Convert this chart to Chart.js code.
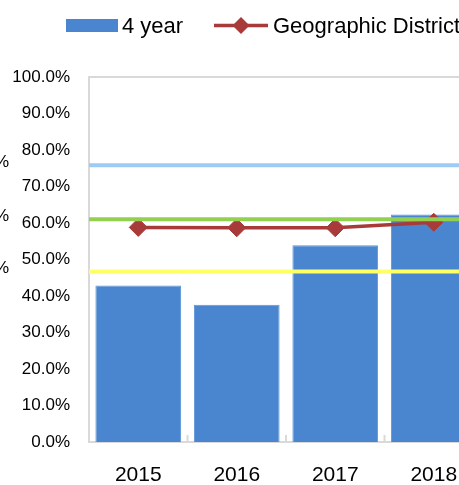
<!DOCTYPE html>
<html>
<head>
<meta charset="utf-8">
<title>4 year vs Geographic District</title>
<script src="https://cdn.jsdelivr.net/npm/chart.js@4/dist/chart.umd.min.js"></script>
<style>
  html, body { margin: 0; padding: 0; background: #fff; overflow: hidden; }
  #wrap { width: 459px; height: 485px; overflow: hidden; }
  canvas { display: block; }
</style>
</head>
<body>
<div id="wrap"><canvas id="rateChart" width="493" height="485"></canvas></div>
<script>
// ---- Data ----
const years        = ['2015', '2016', '2017', '2018'];
const fourYear     = [42.9, 37.6, 53.9, 62.3];
const geoDistrict  = [58.8, 58.7, 58.7, 60.2];
const yTicks       = [0, 10, 20, 30, 40, 50, 60, 70, 80, 90, 100];

// reference levels drawn across the whole plot
const refLevels    = [75.8, 61.0, 46.7];
const refLabels    = ['76%', '61%', '47%'];
const refColors    = ['#9dcbf6', '#92d050', '#ffff66'];

const FONT = 'Liberation Sans, Arial, sans-serif';
const BAR_COLOR  = '#4a86cf';
const LINE_COLOR = '#a83b3a';
const FRAME      = '#d9d9d9';

// one flat line dataset per reference level, on a hidden 0..1 axis
const refDatasets = refLevels.map((v, i) => ({
  type: 'line',
  label: 'ref' + i,
  data: [{ x: 0, y: v }, { x: 1, y: v }],
  xAxisID: 'xRef',
  borderColor: refColors[i],
  borderWidth: 4,
  pointRadius: 0,
  fill: false,
  order: 0
}));

// ---- Plot frame, inner tick marks and cut-off side labels ----
const framePlugin = {
  id: 'frame',
  beforeDatasetsDraw(chart) {
    const { ctx, chartArea: a, scales } = chart;
    ctx.save();
    ctx.strokeStyle = FRAME;
    ctx.lineWidth = 2;
    ctx.strokeRect(a.left, a.top, a.right - a.left, a.bottom - a.top);
    // small tick marks between categories, pointing into the plot
    const x = scales.x;
    ctx.beginPath();
    for (let i = 0; i < years.length - 1; i++) {
      const px = (x.getPixelForTick(i) + x.getPixelForTick(i + 1)) / 2;
      ctx.moveTo(px, a.bottom);
      ctx.lineTo(px, a.bottom - 7);
    }
    ctx.stroke();
    ctx.restore();
  },
  afterDraw(chart) {
    const { ctx, scales } = chart;
    ctx.save();
    ctx.fillStyle = '#000';
    ctx.font = '17px ' + FONT;
    ctx.textAlign = 'right';
    ctx.textBaseline = 'middle';
    refLevels.forEach((v, i) => {
      ctx.fillText(refLabels[i], 9, scales.y.getPixelForValue(v) - 3);
    });
    ctx.restore();
  }
};

// ---- Legend strip at the top ----
const legendPlugin = {
  id: 'topLegend',
  afterDraw(chart) {
    const ctx = chart.ctx;
    const ly = 25.5;
    ctx.save();
    ctx.fillStyle = BAR_COLOR;
    ctx.fillRect(66, 19, 52, 13);

    ctx.strokeStyle = LINE_COLOR;
    ctx.lineWidth = 3.5;
    ctx.beginPath();
    ctx.moveTo(214, ly);
    ctx.lineTo(268, ly);
    ctx.stroke();
    ctx.fillStyle = LINE_COLOR;
    ctx.beginPath();
    ctx.moveTo(241, ly - 8.5);
    ctx.lineTo(249.5, ly);
    ctx.lineTo(241, ly + 8.5);
    ctx.lineTo(232.5, ly);
    ctx.closePath();
    ctx.fill();

    ctx.fillStyle = '#000';
    ctx.font = '22px ' + FONT;
    ctx.textAlign = 'left';
    ctx.textBaseline = 'middle';
    ctx.fillText('4 year', 122, ly + 1);
    ctx.fillText('Geographic District', 273, ly + 1);
    ctx.restore();
  }
};

const ctx = document.getElementById('rateChart').getContext('2d');
new Chart(ctx, {
  type: 'bar',
  data: {
    labels: years,
    datasets: [
      ...refDatasets,
      {
        type: 'line',
        label: 'Geographic District',
        data: geoDistrict,
        xAxisID: 'x',
        borderColor: LINE_COLOR,
        backgroundColor: LINE_COLOR,
        borderWidth: 3.5,
        pointStyle: 'rectRot',
        pointRadius: 9,
        pointBorderWidth: 1,
        tension: 0,
        fill: false,
        order: 1
      },
      {
        type: 'bar',
        label: '4 year',
        data: fourYear,
        xAxisID: 'x',
        grouped: false,
        backgroundColor: BAR_COLOR,
        borderColor: '#5d95d8',
        borderWidth: 1,
        barPercentage: 0.87,
        categoryPercentage: 1,
        order: 2
      }
    ]
  },
  options: {
    responsive: false,
    animation: false,
    layout: { padding: { top: 77, left: 0, right: 0, bottom: 0 } },
    plugins: { legend: { display: false }, tooltip: { enabled: false } },
    scales: {
      x: {
        type: 'category',
        offset: true,
        grid: { display: false, drawTicks: false },
        border: { display: false },
        ticks: {
          color: '#000',
          font: { family: FONT, size: 21 },
          padding: 21,
          maxRotation: 0
        },
        afterFit(scale) { scale.height = 43; }
      },
      xRef: {
        type: 'linear',
        min: 0,
        max: 1,
        offset: false,
        display: false
      },
      y: {
        min: 0,
        max: 100,
        afterBuildTicks(scale) { scale.ticks = yTicks.map(v => ({ value: v })); },
        grid: { display: false, drawTicks: false },
        border: { display: false },
        ticks: {
          color: '#000',
          font: { family: FONT, size: 17 },
          padding: 19,
          callback: v => v.toFixed(1) + '%'
        },
        afterFit(scale) { scale.width = 89; }
      }
    }
  },
  plugins: [framePlugin, legendPlugin]
});
</script>
</body>
</html>
